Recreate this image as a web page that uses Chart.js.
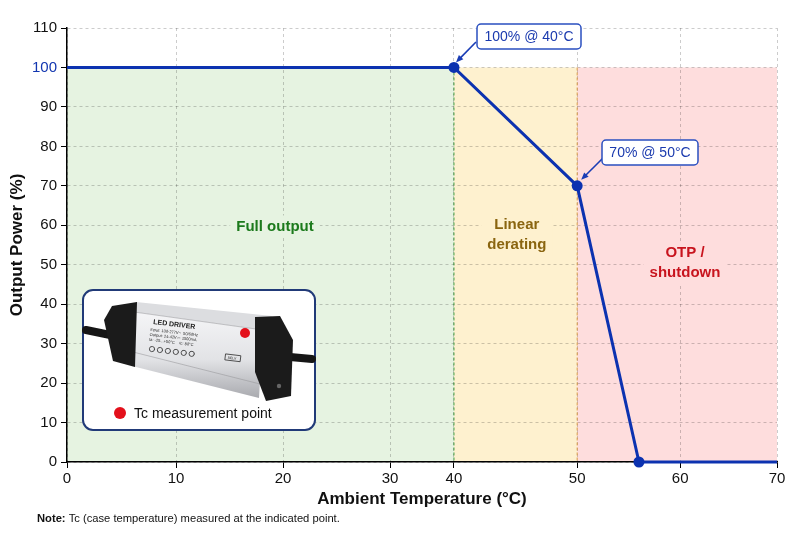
<!DOCTYPE html>
<html>
<head>
<meta charset="utf-8">
<script src="https://cdn.jsdelivr.net/npm/chart.js@4.4.1/dist/chart.umd.min.js"></script>
<style>
  html, body { margin: 0; padding: 0; background: #fff; }
  #wrap { width: 800px; height: 533px; }
</style>
</head>
<body>
<div id="wrap"><canvas id="derating"></canvas></div>
<script>
// Derating curve data
const tempC = [0, 40, 50, 56, 70];
const powerPct = [100, 100, 70, 0, 0];
const markerRadius = [0, 5.5, 5.5, 5.5, 0];

// x tick labels (the drawn axis is not evenly spaced)
const tempTicks = [0, 10, 20, 30, 40, 50, 60, 70];
const tickSlot = [0, 10.75, 21.3, 31.85, 38.15, 50.3, 60.45, 70];

// Zones (x range, up to 100 %)
const zoneStart = [0, 40, 50];
const zoneEnd = [40, 50, 70];
const zoneTop = 100;
const zoneLabels = [['Full output'], ['Linear', 'derating'], ['OTP /', 'shutdown']];
const zoneLabelX = [19.25, 45.1, 60.5];
const zoneLabelY = [59.7, 57.6, 50.4];

// Callouts
const calloutText = ['100% @ 40°C', '70% @ 50°C'];
const calloutIndex = [1, 2];

const FONT = '"Liberation Sans", Arial, Helvetica, sans-serif';
const BLUE = '#0c32b0';

const zoneFill = ['#e6f3e1', '#fef1cf', '#fedddd'];
const zoneLine = ['#3f9a3f', '#d99a45', null];
const zoneText = ['#1c7a1c', '#8a6510', '#c8141e'];

// temperature -> position on the drawn axis
function warp(t) {
  for (let i = 0; i < tempTicks.length - 1; i++) {
    if (t <= tempTicks[i + 1]) {
      const f = (t - tempTicks[i]) / (tempTicks[i + 1] - tempTicks[i]);
      return tickSlot[i] + f * (tickSlot[i + 1] - tickSlot[i]);
    }
  }
  return tickSlot[tickSlot.length - 1];
}

function roundRect(ctx, x, y, w, h, r) {
  ctx.beginPath();
  ctx.moveTo(x + r, y);
  ctx.lineTo(x + w - r, y);
  ctx.arcTo(x + w, y, x + w, y + r, r);
  ctx.lineTo(x + w, y + h - r);
  ctx.arcTo(x + w, y + h, x + w - r, y + h, r);
  ctx.lineTo(x + r, y + h);
  ctx.arcTo(x, y + h, x, y + h - r, r);
  ctx.lineTo(x, y + r);
  ctx.arcTo(x, y, x + r, y, r);
  ctx.closePath();
}

function poly(ctx, pts) {
  ctx.beginPath();
  ctx.moveTo(pts[0][0], pts[0][1]);
  for (let i = 1; i < pts.length; i++) ctx.lineTo(pts[i][0], pts[i][1]);
  ctx.closePath();
}

// simple drawing of the LED driver inside the inset
function drawDriver(ctx) {
  ctx.save();
  ctx.textAlign = 'left';
  ctx.textBaseline = 'alphabetic';
  ctx.lineCap = 'round';
  ctx.strokeStyle = '#161616';
  ctx.lineWidth = 8;
  ctx.beginPath(); ctx.moveTo(86, 330); ctx.lineTo(120, 337); ctx.stroke();
  ctx.beginPath(); ctx.moveTo(290, 357); ctx.lineTo(312, 359); ctx.stroke();

  // top strip
  ctx.fillStyle = '#dcdde0';
  poly(ctx, [[136, 302], [272, 316], [263, 330], [134, 312]]);
  ctx.fill();
  // front face
  let g = ctx.createLinearGradient(0, 312, 0, 398);
  g.addColorStop(0, '#f5f5f7');
  g.addColorStop(0.55, '#e2e3e6');
  g.addColorStop(1, '#a9aaaf');
  ctx.fillStyle = g;
  poly(ctx, [[134, 312], [263, 330], [259, 398], [132, 366]]);
  ctx.fill();
  ctx.strokeStyle = 'rgba(150,150,155,0.7)';
  ctx.lineWidth = 0.8;
  ctx.beginPath(); ctx.moveTo(134, 312); ctx.lineTo(263, 330); ctx.stroke();
  ctx.beginPath(); ctx.moveTo(133, 352); ctx.lineTo(260, 384); ctx.stroke();

  // end caps
  ctx.fillStyle = '#1b1b1b';
  poly(ctx, [[112, 306], [137, 302], [135, 367], [113, 361], [104, 320]]);
  ctx.fill();
  poly(ctx, [[255, 317], [280, 316], [293, 340], [291, 396], [266, 401], [255, 372]]);
  ctx.fill();
  ctx.fillStyle = '#666';
  ctx.beginPath(); ctx.arc(279, 386, 2.2, 0, Math.PI * 2); ctx.fill();

  // label text
  ctx.save();
  ctx.translate(153, 324);
  ctx.rotate(0.12);
  ctx.fillStyle = '#222';
  ctx.font = 'bold 7px ' + FONT;
  ctx.fillText('LED DRIVER', 0, 0);
  ctx.font = '4px ' + FONT;
  ctx.fillText('Input: 100-277V~  50/60Hz', -2, 7);
  ctx.fillText('Output: 24-42V⎓  1500mA', -2, 12);
  ctx.fillText('ta: -25...+50°C    tc: 80°C', -2, 17);
  ctx.strokeStyle = '#333';
  ctx.lineWidth = 0.8;
  for (let i = 0; i < 6; i++) {
    ctx.beginPath(); ctx.arc(2 + i * 8, 25, 2.6, 0, Math.PI * 2); ctx.stroke();
  }
  ctx.strokeRect(76, 21, 15, 6);
  ctx.font = '3.5px ' + FONT;
  ctx.fillText('SELV', 78, 25.5);
  ctx.restore();

  // Tc point
  ctx.fillStyle = '#e3101b';
  ctx.beginPath(); ctx.arc(245, 333, 5, 0, Math.PI * 2); ctx.fill();
  ctx.restore();
}

function drawArrow(ctx, x1, y1, x2, y2, color) {
  const a = Math.atan2(y2 - y1, x2 - x1);
  const hl = 8;
  ctx.save();
  ctx.strokeStyle = color;
  ctx.fillStyle = color;
  ctx.lineWidth = 1.6;
  ctx.beginPath();
  ctx.moveTo(x1, y1);
  ctx.lineTo(x2 - Math.cos(a) * hl * 0.8, y2 - Math.sin(a) * hl * 0.8);
  ctx.stroke();
  ctx.beginPath();
  ctx.moveTo(x2, y2);
  ctx.lineTo(x2 - hl * Math.cos(a - 0.4), y2 - hl * Math.sin(a - 0.4));
  ctx.lineTo(x2 - hl * Math.cos(a + 0.4), y2 - hl * Math.sin(a + 0.4));
  ctx.closePath();
  ctx.fill();
  ctx.restore();
}

const zonesPlugin = {
  id: 'zones',
  beforeDraw(chart) {
    const { ctx, scales: { x, y } } = chart;
    ctx.save();
    zoneStart.forEach((s, i) => {
      const x0 = x.getPixelForValue(warp(s));
      const x1 = x.getPixelForValue(warp(zoneEnd[i]));
      const yt = y.getPixelForValue(zoneTop);
      const yb = y.getPixelForValue(0);
      ctx.fillStyle = zoneFill[i];
      ctx.fillRect(x0, yt, x1 - x0, yb - yt);
    });
    ctx.restore();
  },
  beforeDatasetsDraw(chart) {
    const { ctx, scales: { x, y } } = chart;
    ctx.save();
    // zone borders
    zoneStart.forEach((s, i) => {
      if (i === 0) return;
      const px = x.getPixelForValue(warp(s));
      ctx.strokeStyle = zoneLine[i - 1];
      ctx.setLineDash([3, 2]);
      ctx.lineWidth = 1;
      ctx.beginPath();
      ctx.moveTo(px, y.getPixelForValue(zoneTop));
      ctx.lineTo(px, y.getPixelForValue(0));
      ctx.stroke();
    });
    ctx.setLineDash([]);
    // zone labels
    ctx.font = 'bold 15px ' + FONT;
    ctx.textAlign = 'center';
    ctx.textBaseline = 'middle';
    zoneLabels.forEach((lines, i) => {
      const cx = x.getPixelForValue(warp(zoneLabelX[i]));
      const cy = y.getPixelForValue(zoneLabelY[i]);
      const lh = 20;
      const w = Math.max(...lines.map(l => ctx.measureText(l).width)) + 12;
      const h = lines.length * lh + 2;
      ctx.fillStyle = zoneFill[i];
      ctx.fillRect(cx - w / 2, cy - h / 2, w, h);
      ctx.fillStyle = zoneText[i];
      lines.forEach((l, k) => {
        ctx.fillText(l, cx, cy - (lines.length - 1) * lh / 2 + k * lh);
      });
    });
    ctx.restore();
  },
  afterDraw(chart) {
    const { ctx, scales: { x, y } } = chart;
    ctx.save();
    // callouts
    const boxes = [
      { x: 477, y: 24, w: 104, h: 25, ax: 476, ay: 42, dx: 2, dy: -5 },
      { x: 602, y: 140, w: 96, h: 25, ax: 603, ay: 158, dx: 4, dy: -6 }
    ];
    ctx.font = '14px ' + FONT;
    ctx.textAlign = 'center';
    ctx.textBaseline = 'middle';
    calloutIndex.forEach((idx, i) => {
      const b = boxes[i];
      const px = x.getPixelForValue(warp(tempC[idx]));
      const py = y.getPixelForValue(powerPct[idx]);
      drawArrow(ctx, b.ax, b.ay, px + b.dx, py + b.dy, '#1a3db5');
      roundRect(ctx, b.x, b.y, b.w, b.h, 4);
      ctx.fillStyle = '#fff';
      ctx.fill();
      ctx.strokeStyle = '#2a4fc0';
      ctx.lineWidth = 1.5;
      ctx.stroke();
      ctx.fillStyle = '#1a3aae';
      ctx.fillText(calloutText[i], b.x + b.w / 2, b.y + b.h / 2 + 1);
    });

    // inset
    roundRect(ctx, 83, 290, 232, 140, 10);
    ctx.fillStyle = '#fff';
    ctx.fill();
    ctx.strokeStyle = '#213a78';
    ctx.lineWidth = 2;
    ctx.stroke();
    drawDriver(ctx);
    ctx.fillStyle = '#e3101b';
    ctx.beginPath(); ctx.arc(120, 413, 6, 0, Math.PI * 2); ctx.fill();
    ctx.fillStyle = '#111';
    ctx.font = '14px ' + FONT;
    ctx.textAlign = 'left';
    ctx.fillText('Tc measurement point', 134, 414);

    // note
    ctx.font = 'bold 11.2px ' + FONT;
    ctx.fillStyle = '#111';
    ctx.fillText('Note:', 37, 519);
    const nw = ctx.measureText('Note: ').width;
    ctx.font = '11.2px ' + FONT;
    ctx.fillText('Tc (case temperature) measured at the indicated point.', 37 + nw, 519);
    ctx.restore();
  }
};

new Chart(document.getElementById('derating'), {
  type: 'line',
  data: {
    datasets: [{
      data: tempC.map((t, i) => ({ x: warp(t), y: powerPct[i] })),
      borderColor: BLUE,
      backgroundColor: BLUE,
      borderWidth: 3,
      pointRadius: markerRadius,
      pointHoverRadius: markerRadius,
      pointBackgroundColor: BLUE,
      pointBorderWidth: 0,
      tension: 0,
      clip: false
    }]
  },
  options: {
    responsive: true,
    maintainAspectRatio: false,
    animation: false,
    layout: { padding: { top: 28, right: 23, bottom: 23, left: 0 } },
    plugins: { legend: { display: false }, tooltip: { enabled: false } },
    scales: {
      x: {
        type: 'linear',
        min: 0,
        max: 70,
        afterFit(scale) { scale.height = 48; },
        afterBuildTicks(scale) { scale.ticks = tickSlot.map(v => ({ value: v })); },
        ticks: {
          color: '#111',
          font: { family: FONT, size: 15 },
          padding: 2,
          callback: (v, i) => tempTicks[i]
        },
        grid: { color: 'rgba(0,0,0,0.2)', tickLength: 6, tickColor: '#000', tickWidth: 1 },
        border: { display: true, color: '#000', width: 1.5, dash: [3, 3] },
        title: {
          display: true,
          text: 'Ambient Temperature (°C)',
          color: '#111',
          font: { family: FONT, size: 17, weight: 'bold' },
          padding: { top: 3, bottom: 0 }
        }
      },
      y: {
        min: 0,
        max: 110,
        afterFit(scale) { scale.width = 67; },
        ticks: {
          stepSize: 10,
          color: (c) => (c.tick && c.tick.value === 100 ? '#1236b0' : '#111'),
          font: { family: FONT, size: 15 },
          padding: 4
        },
        grid: { color: 'rgba(0,0,0,0.2)', tickLength: 6, tickColor: '#000', tickWidth: 1 },
        border: { display: true, color: '#000', width: 1.5, dash: [3, 3] },
        title: {
          display: true,
          text: 'Output Power (%)',
          color: '#111',
          font: { family: FONT, size: 17, weight: 'bold' },
          padding: { top: 7, bottom: 0 }
        }
      }
    }
  },
  plugins: [zonesPlugin]
});
</script>
</body>
</html>
